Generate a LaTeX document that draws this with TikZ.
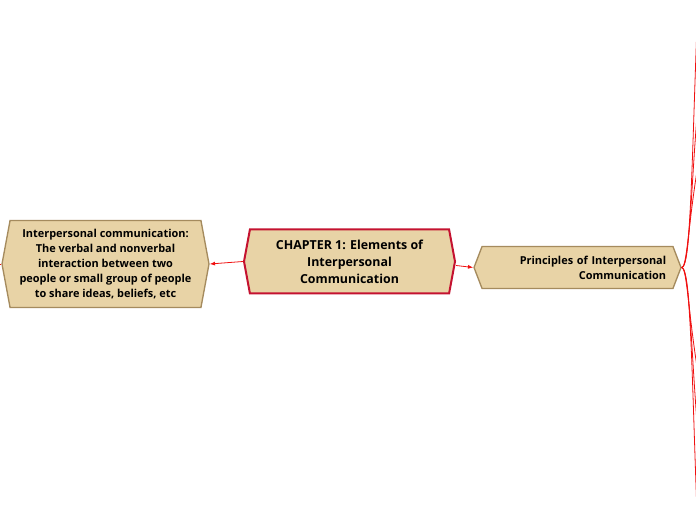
\documentclass[tikz,border=0pt]{standalone}
\usepackage{fontspec}
\setmainfont{Open Sans}
\usetikzlibrary{shapes.symbols,arrows.meta}
\definecolor{boxfill}{HTML}{E8D3A6}
\definecolor{boxline}{HTML}{A58B5E}
\definecolor{mainline}{HTML}{C41230}
\definecolor{linkred}{HTML}{F01010}
\tikzset{
  topic/.style={signal, signal to=west and east, fill=boxfill, draw=boxline, line width=1pt,
    font=\fontsize{8.2}{11.25}\selectfont\bfseries, inner sep=0pt},
  maintopic/.style={topic, draw=mainline, line width=1.5pt,
    font=\fontsize{9.3}{12.75}\selectfont\bfseries},
  link/.style={draw=linkred, line width=0.6pt},
}
\begin{document}
\begin{tikzpicture}[x=0.75pt,y=0.75pt,yscale=-1,xscale=1]
		\useasboundingbox (0,0) rectangle (696,520);

		% topics
		\node[maintopic, signal pointer angle=159, minimum width=158.25pt, minimum height=48pt, align=center] (chap) at (349.5,261.5) {CHAPTER 1: Elements of\\Interpersonal\\Communication};
		\node[topic, signal pointer angle=159, minimum width=155.25pt, minimum height=65.25pt, align=center] (defn) at (105.5,264) {Interpersonal communication:\\The verbal and nonverbal\\interaction between two\\people or small group of people\\to share ideas, beliefs, etc};
		\node[topic, signal pointer angle=138, minimum width=155.25pt, minimum height=31.5pt, text width=133pt, align=right] (prin) at (577.5,267.5) {Principles of Interpersonal\\Communication};

		% ends off the page
		\coordinate (offleft) at (-40,264);
		\coordinate (upA) at (712,-20);
		\coordinate (upB) at (728,40);
		\coordinate (upC) at (704,-110);
		\coordinate (dnA) at (712,560);
		\coordinate (dnB) at (728,500);
		\coordinate (dnC) at (704,650);

		% connectors
		\draw[link,-{Latex[length=4pt,width=3pt]}] (chap.west) -- (defn.east);
		\draw[link,-{Latex[length=4pt,width=3pt]}] ([yshift=3pt]chap.east) -- (prin.west);
		\draw[link] (defn.west) -- (offleft);
		\draw[link] (prin.east) .. controls (693,268) and (690,120) .. (upA);
		\draw[link] (prin.east) .. controls (690,268) and (688,160) .. (upB);
		\draw[link] (prin.east) .. controls (694,268) and (692,60) .. (upC);
		\draw[link] (prin.east) .. controls (693,268) and (690,418) .. (dnA);
		\draw[link] (prin.east) .. controls (690,268) and (688,378) .. (dnB);
		\draw[link] (prin.east) .. controls (694,268) and (692,478) .. (dnC);
\end{tikzpicture}
\end{document}
